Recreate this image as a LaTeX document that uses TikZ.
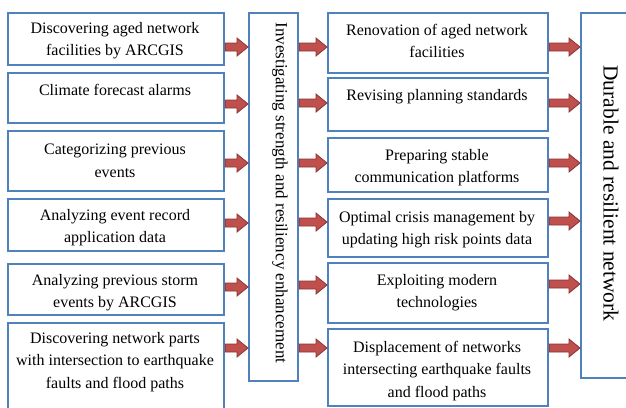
\documentclass[tikz,border=0pt]{standalone}
\usepackage{fontspec}
\setmainfont{Liberation Serif}
\usetikzlibrary{calc}
\definecolor{bblue}{RGB}{79,129,189}
\definecolor{ared}{RGB}{192,80,77}
\definecolor{ared2}{RGB}{140,52,50}
\begin{document}
\begin{tikzpicture}[x=1pt,y=-1pt,
  box/.style={draw=bblue, line width=2.2pt, fill=white, rectangle, inner sep=0pt, anchor=north west},
  txt/.style={font=\fontsize{16}{22.5}\selectfont, align=center, anchor=north, inner sep=0pt},
  barS/.style={draw=ared2, fill=ared, line width=0.8pt, line join=miter,
    to path={let \p1=(\tikztostart), \p2=(\tikztotarget) in
      (\x1,\y1+4pt) -- (\x2-11pt,\y1+4pt) -- (\x2-11pt,\y1+9pt) -- (\x2,\y1)
      -- (\x2-11pt,\y1-9pt) -- (\x2-11pt,\y1-4pt) -- (\x1,\y1-4pt) -- cycle}},
  barT/.style={draw=ared2, fill=ared, line width=0.8pt, line join=miter,
    to path={let \p1=(\tikztostart), \p2=(\tikztotarget) in
      (\x1,\y2+4pt) -- (\x2-11pt,\y2+4pt) -- (\x2-11pt,\y2+9pt) -- (\x2,\y2)
      -- (\x2-11pt,\y2-9pt) -- (\x2-11pt,\y2-4pt) -- (\x1,\y2-4pt) -- cycle}},
]
\useasboundingbox (0,0) rectangle (626,407);
\clip (0,0) rectangle (626,407);
\fill[white] (0,0) rectangle (626,407);

% left column
\node[box, minimum width=216pt, minimum height=52pt] (l1) at (7,12) {};
\node[box, minimum width=216pt, minimum height=50pt] (l2) at (7,72) {};
\node[box, minimum width=216pt, minimum height=60pt] (l3) at (7,130) {};
\node[box, minimum width=216pt, minimum height=52pt] (l4) at (7,198) {};
\node[box, minimum width=216pt, minimum height=51pt] (l5) at (7,263) {};
\node[box, minimum width=216pt, minimum height=100pt] (l6) at (7,322) {};

\node[txt] (t1) at (115,22) {Discovering aged network\\facilities by ARCGIS};
\node[txt] (t2) at (115,84) {Climate forecast alarms};
\node[txt] (t3) at (115,144) {Categorizing previous\\events};
\node[txt] (t4) at (115,209) {Analyzing event record\\application data};
\node[txt] (t5) at (115,274) {Analyzing previous storm\\events by ARCGIS};
\node[txt] (t6) at (115,332) {Discovering network parts\\with intersection to earthquake\\faults and flood paths};

% middle
\node[box, minimum width=49pt, minimum height=368pt] (mid) at (248,12) {};
\node[rotate=-90, font=\fontsize{17}{20}\selectfont, inner sep=0pt] (mt) at (280,193)
  {Investigating strength and resiliency enhancement};

% right column
\node[box, minimum width=220pt, minimum height=60pt] (r1) at (327,12) {};
\node[box, minimum width=220pt, minimum height=53pt] (r2) at (327,77) {};
\node[box, minimum width=220pt, minimum height=54pt] (r3) at (327,137) {};
\node[box, minimum width=220pt, minimum height=58pt] (r4) at (327,198) {};
\node[box, minimum width=220pt, minimum height=60pt] (r5) at (327,262) {};
\node[box, minimum width=220pt, minimum height=77pt] (r6) at (327,328) {};

\node[txt] (s1) at (437,24) {Renovation of aged network\\facilities};
\node[txt] (s2) at (437,89) {Revising planning standards};
\node[txt] (s3) at (437,149) {Preparing stable\\communication platforms};
\node[txt] (s4) at (437,211) {Optimal crisis management by\\updating high risk points data};
\node[txt] (s5) at (437,274) {Exploiting modern\\technologies};
\node[txt] (s6) at (437,341) {Displacement of networks\\intersecting earthquake faults\\and flood paths};

% far right
\node[box, minimum width=70pt, minimum height=365pt] (far) at (580,12) {};
\node[rotate=-90, font=\fontsize{21.5}{24}\selectfont, inner sep=0pt] (ft) at (611,193.5)
  {Durable and resilient network};

% arrows left -> middle
\draw[barS] ([yshift=-35pt]l1.north east) to (mid.west);
\draw[barS] ([yshift=-32pt]l2.north east) to (mid.west);
\draw[barS] ([yshift=-33pt]l3.north east) to (mid.west);
\draw[barS] ([yshift=-25pt]l4.north east) to (mid.west);
\draw[barS] ([yshift=-24pt]l5.north east) to (mid.west);
\draw[barS] ([yshift=-26pt]l6.north east) to (mid.west);

% arrows middle -> right
\draw[barT] (mid.east) to ([yshift=-35pt]r1.north west);
\draw[barT] (mid.east) to ([yshift=-26pt]r2.north west);
\draw[barT] (mid.east) to ([yshift=-26pt]r3.north west);
\draw[barT] (mid.east) to ([yshift=-24pt]r4.north west);
\draw[barT] (mid.east) to ([yshift=-23pt]r5.north west);
\draw[barT] (mid.east) to ([yshift=-20pt]r6.north west);

% arrows right -> far
\draw[barS] ([yshift=-35pt]r1.north east) to (far.west);
\draw[barS] ([yshift=-26pt]r2.north east) to (far.west);
\draw[barS] ([yshift=-26pt]r3.north east) to (far.west);
\draw[barS] ([yshift=-23pt]r4.north east) to (far.west);
\draw[barS] ([yshift=-22pt]r5.north east) to (far.west);
\draw[barS] ([yshift=-20pt]r6.north east) to (far.west);
\end{tikzpicture}
\end{document}
